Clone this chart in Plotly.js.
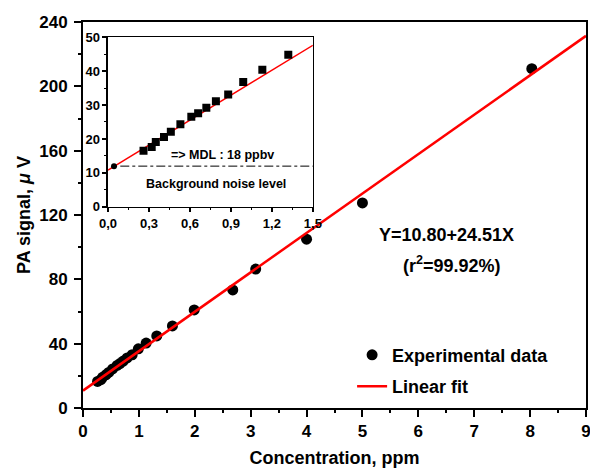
<!DOCTYPE html>
<html>
<head>
<meta charset="utf-8">
<script src="https://cdn.plot.ly/plotly-3.0.1.min.js"></script>
<style>html,body{margin:0;padding:0;background:#fff}#chart{width:590px;height:468px}</style>
</head>
<body>
<div id="chart"></div>
<script>
// Main plot data (concentration, ppm ; PA signal, µV)
var mainX = [0.26, 0.32, 0.35, 0.41, 0.46, 0.53, 0.61, 0.66, 0.72, 0.79, 0.88, 0.99, 1.13, 1.32, 1.60, 1.99, 2.68, 3.09, 4.00, 5.00, 8.03];
var mainY = [16.5, 17.6, 19.1, 20.6, 22.1, 24.3, 26.5, 27.6, 29.2, 31.1, 33.1, 36.8, 40.4, 44.8, 51.0, 61.0, 73.4, 86.4, 105.0, 127.5, 211.0];
var fitX = [0, 9];
var fitY = [10.80, 231.39];

// Inset data
var insetX = [0.26, 0.32, 0.35, 0.41, 0.46, 0.53, 0.61, 0.66, 0.72, 0.79, 0.88, 0.99, 1.13, 1.32];
var insetY = [16.5, 17.6, 19.1, 20.6, 22.1, 24.3, 26.5, 27.6, 29.2, 31.1, 33.1, 36.8, 40.4, 44.8];
var noiseX = [0.044];
var noiseY = [12.0];
var insetFitX = [0, 1.5];
var insetFitY = [10.80, 47.57];
var noiseLineX = [0.09, 1.5];
var noiseLineY = [12, 12];

var F = 'Arial, "Liberation Sans", sans-serif';

var traces = [
  {x: mainX, y: mainY, type: 'scatter', mode: 'markers', name: 'Experimental data',
   marker: {color: '#000', size: 11, symbol: 'circle'}, xaxis: 'x', yaxis: 'y', legendgroup: 'a'},
  {x: fitX, y: fitY, type: 'scatter', mode: 'lines', name: 'Linear fit',
   line: {color: '#ff0000', width: 2.5}, xaxis: 'x', yaxis: 'y', legendgroup: 'b'},
  {x: insetFitX, y: insetFitY, type: 'scatter', mode: 'lines', showlegend: false,
   line: {color: '#ff0000', width: 1.5}, xaxis: 'x2', yaxis: 'y2'},
  {x: noiseLineX, y: noiseLineY, type: 'scatter', mode: 'lines', showlegend: false,
   line: {color: '#000', width: 1, dash: 'dashdot'}, xaxis: 'x2', yaxis: 'y2'},
  {x: insetX, y: insetY, type: 'scatter', mode: 'markers', showlegend: false,
   marker: {color: '#000', size: 8, symbol: 'square'}, xaxis: 'x2', yaxis: 'y2'},
  {x: noiseX, y: noiseY, type: 'scatter', mode: 'markers', showlegend: false,
   marker: {color: '#000', size: 6, symbol: 'circle'}, xaxis: 'x2', yaxis: 'y2'}
];

var layout = {
  width: 590, height: 468,
  margin: {l: 83, r: 4, t: 22, b: 60},
  paper_bgcolor: '#fff', plot_bgcolor: '#fff',
  separators: ',.',
  font: {family: F, color: '#000', size: 17, weight: 'bold'},
  showlegend: true,
  legend: {x: 0.535, y: 0.185, xanchor: 'left', yanchor: 'top', bgcolor: 'rgba(0,0,0,0)',
           font: {family: F, size: 18, color: '#000', weight: 'bold'}, traceorder: 'grouped', tracegroupgap: 5},
  xaxis: {domain: [0, 1], range: [0, 9], dtick: 1, tick0: 0, showgrid: false, zeroline: false,
          showline: true, linewidth: 2, linecolor: '#000', mirror: true,
          ticks: 'outside', ticklen: 7, tickwidth: 2, tickcolor: '#000', ticklabeloverflow: 'allow',
          minor: {dtick: 0.5, tick0: 0, ticks: 'outside', ticklen: 3, tickwidth: 2, tickcolor: '#000'},
          tickfont: {family: F, size: 17, weight: 'bold'},
          title: {text: 'Concentration, ppm', font: {family: F, size: 18, weight: 'bold'}, standoff: 12}},
  yaxis: {domain: [0, 1], range: [0, 240], dtick: 40, tick0: 0, showgrid: false, zeroline: false,
          showline: true, linewidth: 2, linecolor: '#000', mirror: true,
          ticks: 'outside', ticklen: 7, tickwidth: 2, tickcolor: '#000', ticklabelstandoff: 3,
          minor: {dtick: 20, tick0: 0, ticks: 'outside', ticklen: 3, tickwidth: 2, tickcolor: '#000'},
          tickfont: {family: F, size: 17, weight: 'bold'},
          title: {text: 'PA signal, <i>\u03bc</i> V', font: {family: F, size: 18, weight: 'bold'}, standoff: 4}},
  xaxis2: {domain: [0.0497, 0.457], anchor: 'y2', range: [0, 1.5], dtick: 0.3, tick0: 0, tickformat: '.1f',
           showgrid: false, zeroline: false, showline: true, linewidth: 1.5, linecolor: '#000', mirror: true,
           ticks: 'outside', ticklen: 4, tickwidth: 1.5, tickcolor: '#000', ticklabeloverflow: 'allow',
           minor: {dtick: 0.15, tick0: 0, ticks: 'outside', ticklen: 2, tickwidth: 1, tickcolor: '#000'},
           tickfont: {family: F, size: 13, weight: 'bold'}},
  yaxis2: {domain: [0.521, 0.961], anchor: 'x2', range: [0, 50], dtick: 10, tick0: 0,
           showgrid: false, zeroline: false, showline: true, linewidth: 1.5, linecolor: '#000', mirror: true,
           ticks: 'outside', ticklen: 4, tickwidth: 1.5, tickcolor: '#000',
           minor: {dtick: 5, tick0: 0, ticks: 'outside', ticklen: 2, tickwidth: 1, tickcolor: '#000'},
           tickfont: {family: F, size: 13, weight: 'bold'}},
  annotations: [
    {xref: 'x', yref: 'y', x: 6.5, y: 107.6, text: 'Y=10.80+24.51X', showarrow: false,
     font: {family: F, size: 18, weight: 'bold', color: '#000'}},
    {xref: 'x', yref: 'y', x: 6.6, y: 89.5, text: '(r<sup>2</sup>=99.92%)', showarrow: false,
     font: {family: F, size: 18, weight: 'bold', color: '#000'}},
    {xref: 'x2', yref: 'y2', x: 0.84, y: 15.2, text: '=> MDL : 18 ppbv', showarrow: false,
     font: {family: F, size: 12.5, weight: 'bold', color: '#000'}},
    {xref: 'x2', yref: 'y2', x: 0.79, y: 6.8, text: 'Background noise level', showarrow: false,
     font: {family: F, size: 12.5, weight: 'bold', color: '#000'}}
  ]
};

Plotly.newPlot('chart', traces, layout, {displayModeBar: false, staticPlot: true});
</script>
</body>
</html>
